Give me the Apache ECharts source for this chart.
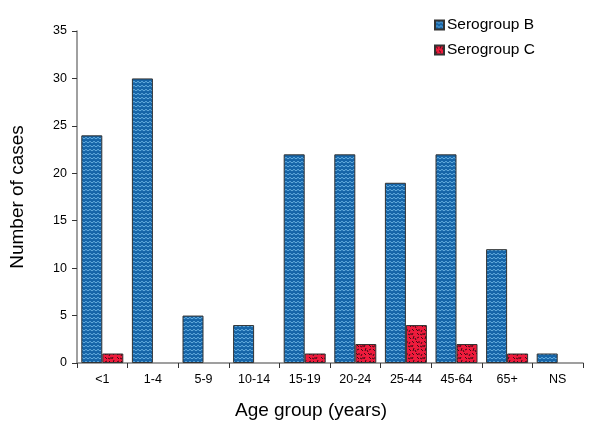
<!DOCTYPE html>
<html><head><meta charset="utf-8">
<script src="https://cdn.jsdelivr.net/npm/echarts@6/dist/echarts.min.js"></script>
<style>html,body{margin:0;padding:0;background:#fff}#c{width:611px;height:426px}</style>
</head><body><div id="c"></div>
<script>
const categories = ['<1','1-4','5-9','10-14','15-19','20-24','25-44','45-64','65+','NS'];
const serogroupB = [24,30,5,4,22,22,19,22,12,1];
const serogroupC = [1,0,0,0,1,2,4,2,1,0];
const yTicks = {min:0, max:35, interval:5};

function zigzag(){
  const c = document.createElement('canvas'); c.width = 4; c.height = 4;
  const g = c.getContext('2d');
  g.fillStyle = '#1665a8'; g.fillRect(0,0,4,4);
  g.strokeStyle = '#72b8e6'; g.lineWidth = 1;
  g.beginPath(); g.moveTo(0,3.2); g.lineTo(2,1.2); g.lineTo(4,3.2); g.stroke();
  return c;
}
function speckle(){
  const c = document.createElement('canvas'); c.width = 12; c.height = 12;
  const g = c.getContext('2d');
  g.fillStyle = '#ee1b3c'; g.fillRect(0,0,12,12);
  g.strokeStyle = '#2a0a10'; g.lineWidth = 0.9;
  const s = [[1,1,3,3],[6,0,5,3],[9,2,11,1],[2,6,1,8],[4,5,6,7],[8,5,10,7],[0,10,2,11],[5,9,4,11],[9,9,11,11],[7,2,8,4],[3,9,3,11],[11,5,11,7]];
  g.beginPath();
  s.forEach(([a,b,c2,d])=>{g.moveTo(a,b);g.lineTo(c2,d);});
  g.stroke();
  return c;
}
const nz = a => a.map(v => v === 0 ? '-' : v);

const chart = echarts.init(document.getElementById('c'), null, {renderer:'canvas'});
const font = 'Liberation Sans, Arial, sans-serif';
chart.setOption({
  animation:false,
  textStyle:{fontFamily:font},
  grid:{left:77, right:28, top:31, bottom:63, containLabel:false, outerBoundsMode:'none'},
  legend:{
    orient:'vertical', left:429, top:12, itemGap:9,
    itemWidth:9, itemHeight:9, icon:'rect',
    textStyle:{fontSize:15.5, color:'#000', fontFamily:font, padding:[0,0,0,-2]},
    data:['Serogroup B','Serogroup C']
  },
  xAxis:{
    type:'category', data:categories,
    name:'Age group (years)', nameLocation:'middle', nameGap:38,
    nameTextStyle:{fontSize:19, color:'#000', fontFamily:font, padding:[0,38,0,0]},
    axisLine:{lineStyle:{color:'#808080', width:1.5}},
    axisTick:{show:true, length:5, lineStyle:{color:'#333'}},
    axisLabel:{color:'#000', fontSize:12.5, margin:10, fontFamily:font, interval:0}
  },
  yAxis:{
    type:'value', min:yTicks.min, max:yTicks.max, interval:yTicks.interval,
    name:'Number of cases', nameLocation:'middle', nameGap:50,
    nameTextStyle:{fontSize:19, color:'#000', fontFamily:font},
    axisLine:{show:true, lineStyle:{color:'#808080', width:1.5}},
    axisTick:{show:true, length:5, lineStyle:{color:'#333'}},
    splitLine:{show:false},
    axisLabel:{color:'#000', fontSize:12.5, margin:10, fontFamily:font}
  },
  series:[
    {name:'Serogroup B', type:'bar', data:nz(serogroupB), barWidth:21, barGap:'0%',
     itemStyle:{color:{image:zigzag(), repeat:'repeat'}, borderColor:'#333', borderWidth:1}},
    {name:'Serogroup C', type:'bar', data:nz(serogroupC), barWidth:21, barGap:'0%',
     itemStyle:{color:{image:speckle(), repeat:'repeat'}, borderColor:'#333', borderWidth:1}}
  ]
});
</script></body></html>
